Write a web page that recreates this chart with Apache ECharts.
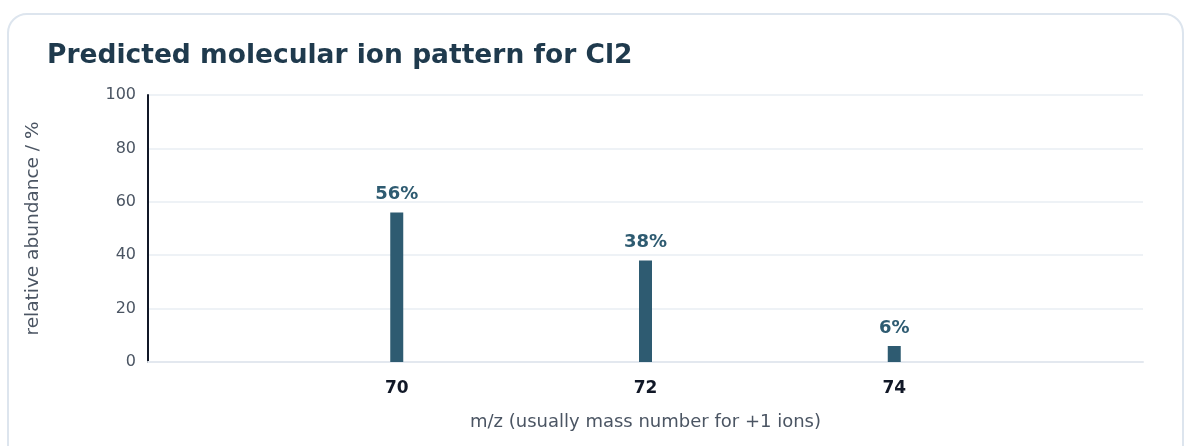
<!DOCTYPE html>
<html>
<head>
<meta charset="utf-8">
<script src="https://cdn.jsdelivr.net/npm/echarts@6/dist/echarts.min.js"></script>
<style>
html,body{margin:0;padding:0;background:#ffffff;width:1184px;height:446px;overflow:hidden;}
#card{position:absolute;left:7px;top:13px;width:1177px;height:460px;border:2px solid #dde5ee;border-radius:20px;box-sizing:border-box;background:#fff;}
#chart{position:absolute;left:0;top:0;width:1184px;height:446px;}
</style>
</head>
<body>
<div id="card"></div>
<div id="chart"></div>
<script>
const title = "Predicted molecular ion pattern for Cl2";
const massNumbers = [70, 72, 74];
const abundances = [56, 38, 6];
const yTicks = [0, 20, 40, 60, 80, 100];
const xName = "m/z (usually mass number for +1 ions)";
const yName = "relative abundance / %";

const chart = echarts.init(document.getElementById('chart'), null, {renderer:'canvas'});
const FONT = 'DejaVu Sans';
chart.setOption({
  animation:false,
  textStyle:{fontFamily:FONT},
  title:{
    text:title, left:42, top:38,
    textStyle:{fontFamily:FONT, fontSize:26.5, fontWeight:'bold', color:'#1f3a4d'}
  },
  grid:{left:148, right:41, top:95, bottom:84},
  xAxis:{
    type:'value', min:68, max:76, interval:2,
    axisLine:{show:true, lineStyle:{color:'#e3e8ef', width:2}},
    axisTick:{show:false},
    splitLine:{show:false},
    axisLabel:{
      margin:18, fontSize:17, fontWeight:'bold', color:'#111827', fontFamily:FONT,
      formatter:v => massNumbers.includes(v) ? String(v) : ''
    },
    name:xName, nameLocation:'middle', nameGap:51,
    nameTextStyle:{fontSize:18, color:'#4b5563', fontFamily:FONT}
  },
  yAxis:{
    type:'value', min:yTicks[0], max:yTicks[yTicks.length-1], interval:20,
    axisLine:{show:true, lineStyle:{color:'#111827', width:2}},
    axisTick:{show:false},
    splitLine:{show:true, lineStyle:{color:'#eef2f6', width:2}},
    axisLabel:{margin:12, fontSize:16, color:'#4b5563', fontFamily:FONT},
    name:yName, nameLocation:'middle', nameGap:105,
    nameTextStyle:{fontSize:18.5, color:'#4b5563', fontFamily:FONT}
  },
  series:[{
    type:'bar',
    data:massNumbers.map((m,i)=>[m, abundances[i]]),
    barWidth:13,
    itemStyle:{color:'#2e5b71'},
    label:{
      show:true, position:'top', distance:9,
      formatter:p => p.value[1] + '%',
      fontSize:18, fontWeight:'bold', color:'#2e5b71', fontFamily:FONT
    }
  }]
});
</script>
</body>
</html>
